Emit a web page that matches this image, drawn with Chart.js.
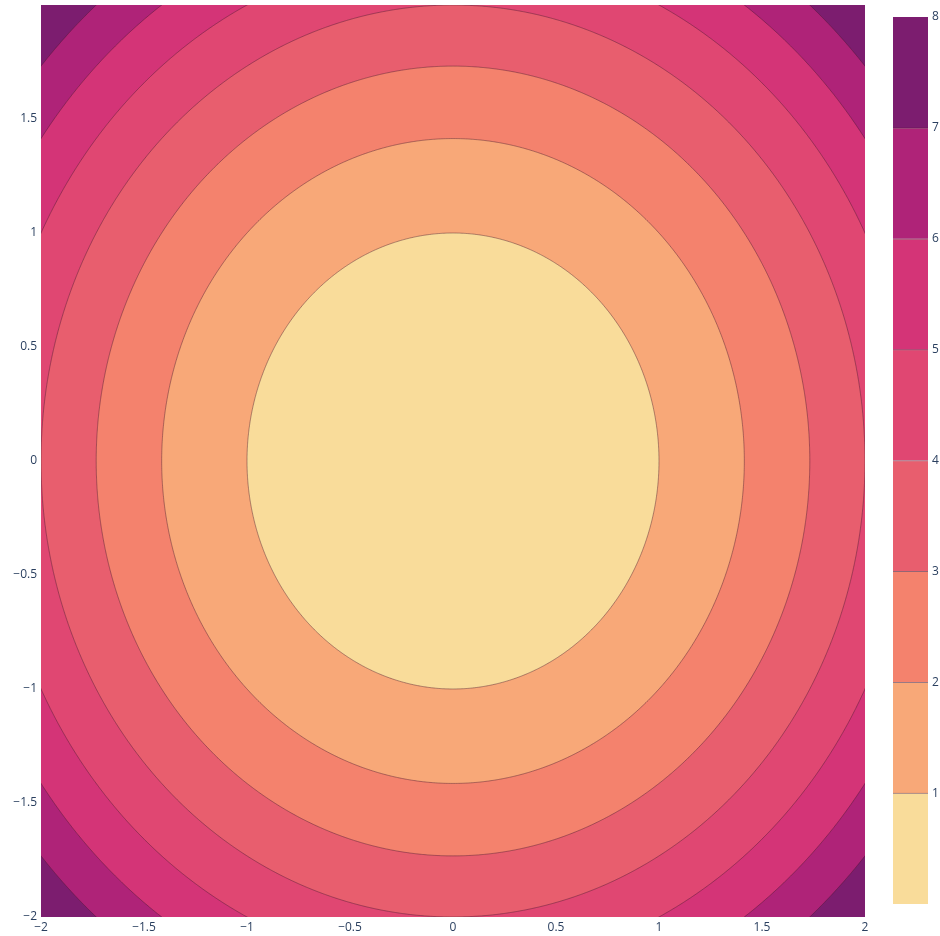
<!DOCTYPE html>
<html>
<head>
<meta charset="utf-8">
<script src="https://cdn.jsdelivr.net/npm/chart.js@4.4.1/dist/chart.umd.min.js"></script>
<style>
  body { margin: 0; background: #fff; }
  #wrap { position: relative; width: 940px; height: 936px; }
  #main { position: absolute; left: 0; top: 0; }
  #bar { position: absolute; left: 880px; top: 0; }
</style>
</head>
<body>
<div id="wrap">
  <canvas id="main" width="880" height="936"></canvas>
  <canvas id="bar" width="60" height="936"></canvas>
</div>
<script>
// contour levels of z = x^2 + y^2
const levels = [1, 2, 3, 4, 5, 6, 7, 8];
// fill colour of the band just below each level (Sunsetdark)
const bandColors = [
  'rgb(249, 220, 154)',
  'rgb(248, 168, 120)',
  'rgb(244, 130, 109)',
  'rgb(232, 94, 110)',
  'rgb(224, 71, 114)',
  'rgb(212, 52, 119)',
  'rgb(175, 35, 120)',
  'rgb(124, 29, 111)'
];
const xRange = [-2, 2];
const yRange = [-2, 2];
const tickStep = 0.5;
const colorbarTicks = [0, 1, 2, 3, 4, 5, 6, 7, 8];

const lineColor = 'rgba(70, 25, 45, 0.55)';

Chart.defaults.font.family = '"Open Sans", sans-serif';
Chart.defaults.font.size = 12;
Chart.defaults.color = '#2a3f5f';

function fmt(v) {
  return String(v).replace('-', '\u2212');
}

// contour of x^2 + y^2 = level is a circle of radius sqrt(level)
function contourPoints(level) {
  const r = Math.sqrt(level);
  const pts = [];
  for (let i = 0; i <= 360; i++) {
    const a = i * Math.PI / 180;
    pts.push({ x: r * Math.cos(a), y: r * Math.sin(a) });
  }
  return pts;
}

const datasets = levels.map((lv, i) => ({
  data: contourPoints(lv),
  showLine: true,
  fill: 'shape',
  backgroundColor: bandColors[i],
  borderColor: lineColor,
  borderWidth: lv === levels[levels.length - 1] ? 0 : 0.8,
  pointRadius: 0,
  tension: 0.0001,
  clip: 0
}));

new Chart(document.getElementById('main').getContext('2d'), {
  type: 'scatter',
  data: { datasets: datasets },
  options: {
    responsive: false,
    devicePixelRatio: 1,
    animation: false,
    events: [],
    layout: { padding: { top: 5, right: 15, left: 0, bottom: 0 } },
    plugins: { legend: { display: false }, tooltip: { enabled: false } },
    scales: {
      x: {
        type: 'linear',
        min: xRange[0], max: xRange[1],
        grid: { display: false, drawTicks: false },
        border: { display: false },
        ticks: { stepSize: tickStep, padding: 3, maxRotation: 0, autoSkip: false, callback: v => fmt(v) },
        afterFit: s => { s.height = 19; s.paddingLeft = 0; s.paddingRight = 0; }
      },
      y: {
        type: 'linear',
        min: yRange[0], max: yRange[1],
        grid: { display: false, drawTicks: false },
        border: { display: false },
        ticks: { stepSize: tickStep, padding: 4, autoSkip: false, callback: v => v === yRange[1] ? '' : fmt(v) },
        afterFit: s => { s.width = 41; s.paddingTop = 0; s.paddingBottom = 0; }
      }
    }
  }
});

// colorbar
new Chart(document.getElementById('bar').getContext('2d'), {
  type: 'bar',
  data: {
    labels: [''],
    datasets: levels.map((lv, i) => ({
      data: [1],
      backgroundColor: bandColors[i],
      borderColor: lineColor,
      borderWidth: i < levels.length - 1 ? { top: 1, right: 0, bottom: 0, left: 0 } : 0,
      borderSkipped: 'start',
      barPercentage: 1,
      categoryPercentage: 1
    }))
  },
  options: {
    responsive: false,
    devicePixelRatio: 1,
    animation: false,
    events: [],
    layout: { padding: { top: 17, left: 13, bottom: 32, right: 0 } },
    plugins: { legend: { display: false }, tooltip: { enabled: false } },
    scales: {
      x: { display: false, stacked: true },
      y: {
        position: 'right',
        stacked: true,
        min: colorbarTicks[0], max: colorbarTicks[colorbarTicks.length - 1],
        grid: { display: false, drawTicks: false },
        border: { display: false },
        ticks: { stepSize: 1, padding: 4, callback: v => v === 0 ? '' : v },
        afterFit: s => { s.width = 12; s.paddingTop = 0; s.paddingBottom = 0; }
      }
    }
  }
});
</script>
</body>
</html>
